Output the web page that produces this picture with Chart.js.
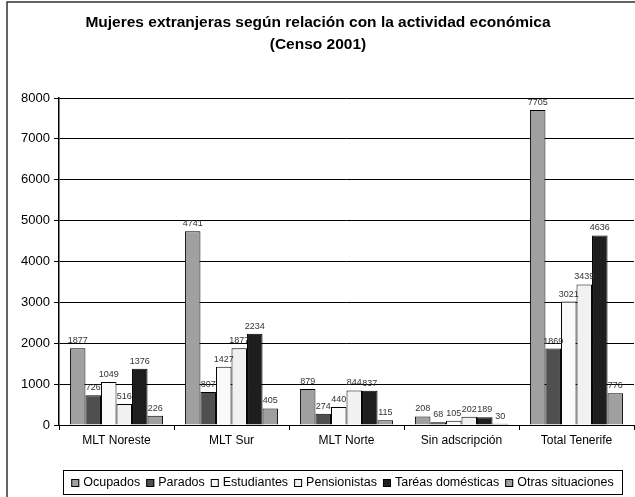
<!DOCTYPE html>
<html>
<head>
<meta charset="utf-8">
<script src="https://cdn.jsdelivr.net/npm/chart.js@4.4.1/dist/chart.umd.min.js"></script>
<style>
html,body{margin:0;padding:0;background:#fff;}
#c{display:block;}
</style>
</head>
<body>
<canvas id="c" width="635" height="497"></canvas>
<script>
const categories = ["MLT Noreste", "MLT Sur", "MLT Norte", "Sin adscripción", "Total Tenerife"];
const ocupados     = [1877, 4741, 879, 208, 7705];
const parados      = [726, 807, 274, 68, 1869];
const estudiantes  = [1049, 1427, 440, 105, 3021];
const pensionistas = [516, 1877, 844, 202, 3439];
const tareas       = [1376, 2234, 837, 189, 4636];
const otras        = [226, 405, 115, 30, 776];
const seriesNames  = ["Ocupados", "Parados", "Estudiantes", "Pensionistas", "Taréas domésticas", "Otras situaciones"];
const yTicks       = [0, 1000, 2000, 3000, 4000, 5000, 6000, 7000, 8000];
const titleLines   = ["Mujeres extranjeras según relación con la actividad económica", "(Censo 2001)"];

const colors = ["#a0a0a0", "#4f4f4f", "#fafafa", "#f1f1f1", "#1e1e1e", "#a0a0a0"];
const values = [ocupados, parados, estudiantes, pensionistas, tareas, otras];
const FONT = "'Liberation Sans', Arial, sans-serif";

const frameTitlePlugin = {
  id: 'frameTitle',
  beforeDraw(chart) {
    const ctx = chart.ctx;
    ctx.save();
    ctx.fillStyle = '#fff';
    ctx.fillRect(0, 0, chart.width, chart.height);
    ctx.strokeStyle = '#333';
    ctx.lineWidth = 1.5;
    ctx.strokeRect(7, 2, 640, 520);
    ctx.fillStyle = '#000';
    ctx.font = 'bold 15.5px ' + FONT;
    ctx.textAlign = 'center';
    ctx.textBaseline = 'middle';
    ctx.fillText(titleLines[0], 318, 23);
    ctx.fillText(titleLines[1], 318, 45);
    ctx.restore();
  }
};

const labelsPlugin = {
  id: 'valueLabels',
  afterDatasetsDraw(chart) {
    const ctx = chart.ctx;
    ctx.save();
    ctx.font = '9px ' + FONT;
    ctx.fillStyle = '#333';
    ctx.textAlign = 'center';
    ctx.textBaseline = 'bottom';
    chart.data.datasets.forEach((ds, i) => {
      const meta = chart.getDatasetMeta(i);
      meta.data.forEach((bar, j) => {
        ctx.fillText(String(ds.data[j]), bar.x, bar.y - 3);
      });
    });
    ctx.restore();
  }
};

const legendPlugin = {
  id: 'boxLegend',
  afterDraw(chart) {
    const ctx = chart.ctx;
    ctx.save();
    ctx.font = '12.5px ' + FONT;
    ctx.textBaseline = 'middle';
    const box = 8, gap = 4, itemGap = 6;
    let total = 0;
    const widths = chart.data.datasets.map(ds => ctx.measureText(ds.label).width);
    widths.forEach(w => total += box + gap + w);
    total += itemGap * (widths.length - 1);
    const bx = 63, by = 470, bw = 559, bh = 24;
    ctx.strokeStyle = '#000';
    ctx.lineWidth = 1;
    ctx.strokeRect(bx + 0.5, by + 0.5, bw, bh);
    let x = bx + (bw - total) / 2;
    const cy = by + bh / 2 + 1;
    chart.data.datasets.forEach((ds, i) => {
      ctx.fillStyle = ds.backgroundColor;
      ctx.fillRect(x, cy - box / 2, box, box);
      ctx.strokeStyle = '#000';
      ctx.strokeRect(x + 0.5, cy - box / 2 + 0.5, box - 1, box - 1);
      ctx.fillStyle = '#000';
      ctx.textAlign = 'left';
      ctx.fillText(ds.label, x + box + gap, cy);
      x += box + gap + widths[i] + itemGap;
    });
    ctx.restore();
  }
};

new Chart(document.getElementById('c'), {
  type: 'bar',
  data: {
    labels: categories,
    datasets: seriesNames.map((n, i) => ({
      label: n,
      data: values[i],
      backgroundColor: colors[i],
      borderColor: '#000',
      borderWidth: 1,
      categoryPercentage: 0.81,
      barPercentage: 1.0
    }))
  },
  options: {
    responsive: false,
    animation: false,
    events: [],
    layout: { padding: { top: 98, left: 0, right: 1, bottom: 47 } },
    plugins: { legend: { display: false }, title: { display: false }, tooltip: { enabled: false } },
    scales: {
      x: {
        grid: { display: true, offset: true, drawOnChartArea: false, color: '#000', tickLength: 5, tickColor: '#000' },
        border: { display: true, color: '#000', width: 1 },
        ticks: { color: '#000', font: { family: FONT, size: 12 }, padding: 3, maxRotation: 0, autoSkip: false },
        afterFit(s) { s.height = 25; }
      },
      y: {
        min: 0, max: 8000,
        afterBuildTicks(s) { s.ticks = yTicks.map(v => ({ value: v })); },
        grid: { color: '#000', lineWidth: 1, tickLength: 5, tickColor: '#000' },
        border: { display: true, color: '#000', width: 1.5 },
        ticks: { color: '#000', font: { family: FONT, size: 13 }, padding: 4, callback: v => String(v) },
        afterFit(s) { s.width = 59; }
      }
    }
  },
  plugins: [frameTitlePlugin, labelsPlugin, legendPlugin]
});
</script>
</body>
</html>
